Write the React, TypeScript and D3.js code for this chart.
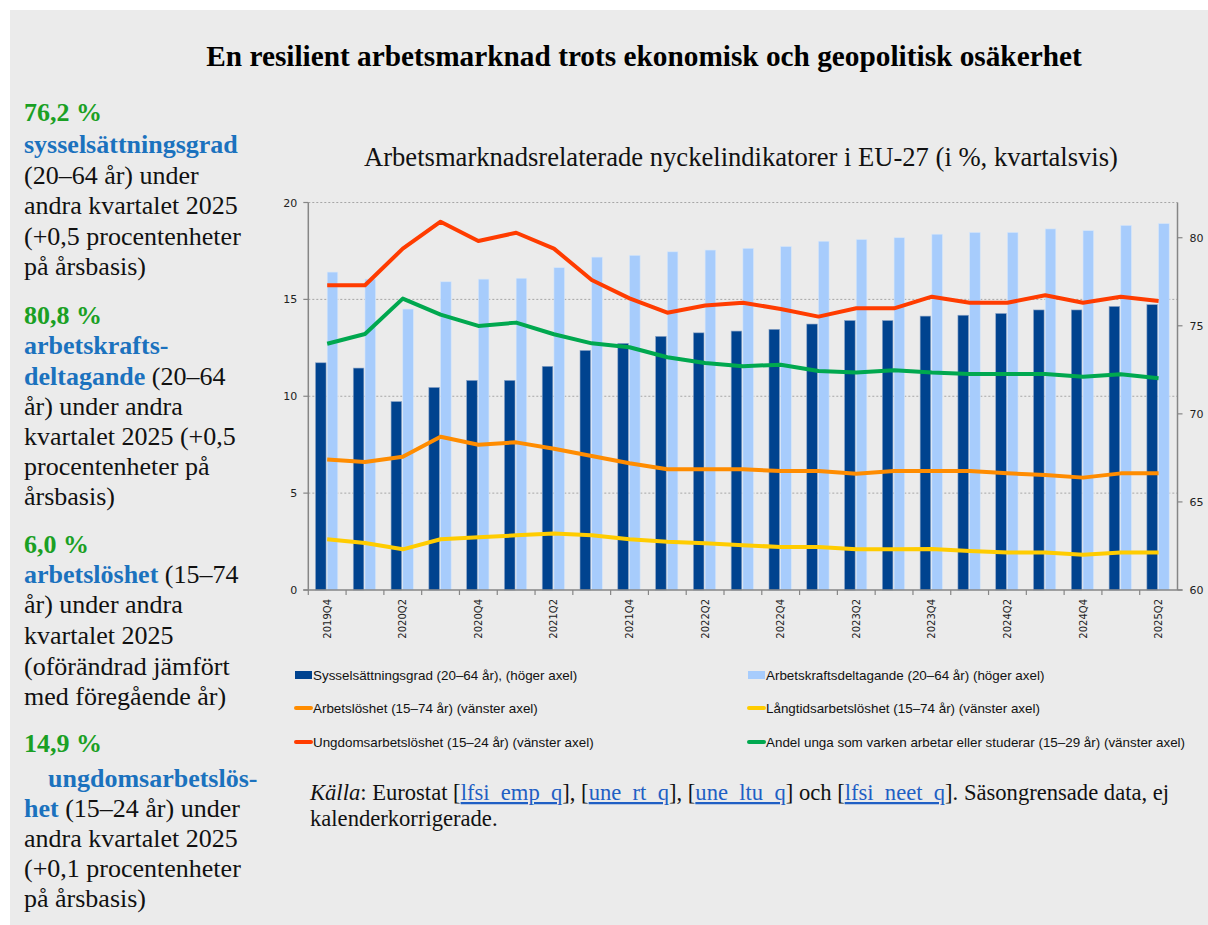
import React from 'react';
import * as d3 from 'd3';

const categories = ['2019Q4','2020Q1','2020Q2','2020Q3','2020Q4','2021Q1','2021Q2','2021Q3','2021Q4','2022Q1','2022Q2','2022Q3','2022Q4','2023Q1','2023Q2','2023Q3','2023Q4','2024Q1','2024Q2','2024Q3','2024Q4','2025Q1','2025Q2'];
const employment = [72.9,72.6,70.7,71.5,71.9,71.9,72.7,73.6,74.0,74.4,74.6,74.7,74.8,75.1,75.3,75.3,75.55,75.6,75.7,75.9,75.9,76.1,76.2];
const activity = [78.05,77.65,75.95,77.5,77.65,77.7,78.3,78.9,79.0,79.2,79.3,79.4,79.5,79.8,79.9,80.0,80.2,80.3,80.3,80.5,80.4,80.7,80.8];
const unemployment = [6.73,6.61,6.88,7.91,7.5,7.62,7.29,6.92,6.54,6.23,6.23,6.23,6.14,6.14,6.0,6.14,6.14,6.14,6.02,5.94,5.8,6.02,6.02];
const longTerm = [2.62,2.43,2.1,2.62,2.72,2.82,2.91,2.82,2.62,2.49,2.41,2.31,2.22,2.22,2.1,2.1,2.12,2.01,1.93,1.93,1.82,1.93,1.93];
const youth = [15.73,15.73,17.62,19.01,18.01,18.44,17.62,16.0,15.05,14.31,14.68,14.83,14.5,14.11,14.54,14.54,15.14,14.83,14.83,15.21,14.83,15.14,14.92];
const neet = [12.71,13.21,15.04,14.21,13.63,13.8,13.2,12.73,12.53,12.01,11.72,11.55,11.63,11.3,11.22,11.34,11.22,11.15,11.15,11.15,11.01,11.13,10.93];
const leftTicks = [0,5,10,15,20];
const rightTicks = [60,65,70,75,80];

const DARK = '#00438F';
const LIGHT = '#A7CCFC';
const ORANGE = '#FF8C00';
const YELLOW = '#FFCC00';
const RED = '#FF3C00';
const GREEN = '#00A84F';

const lineSeries = [
  { name: 'Arbetslöshet (15–74 år) (vänster axel)', values: unemployment, color: ORANGE },
  { name: 'Långtidsarbetslöshet (15–74 år) (vänster axel)', values: longTerm, color: YELLOW },
  { name: 'Ungdomsarbetslöshet (15–24 år) (vänster axel)', values: youth, color: RED },
  { name: 'Andel unga som varken arbetar eller studerar (15–29 år) (vänster axel)', values: neet, color: GREEN },
];

const legendItems = [
  { name: 'Sysselsättningsgrad (20–64 år), (höger axel)', color: DARK, type: 'bar' },
  { name: 'Arbetskraftsdeltagande (20–64 år) (höger axel)', color: LIGHT, type: 'bar' },
  { name: 'Arbetslöshet (15–74 år) (vänster axel)', color: ORANGE, type: 'line' },
  { name: 'Långtidsarbetslöshet (15–74 år) (vänster axel)', color: YELLOW, type: 'line' },
  { name: 'Ungdomsarbetslöshet (15–24 år) (vänster axel)', color: RED, type: 'line' },
  { name: 'Andel unga som varken arbetar eller studerar (15–29 år) (vänster axel)', color: GREEN, type: 'line' },
];

const GREEN_T = '#1AA024';
const BLUE_T = '#1B72BE';

type Seg = { t: string; c?: string; b?: boolean; i?: boolean };
const sideLines: { y: number; x?: number; segs: Seg[] }[] = [
  { y: 121, segs: [{ t: '76,2 %', c: GREEN_T, b: true }] },
  { y: 153, segs: [{ t: 'sysselsättningsgrad', c: BLUE_T, b: true }] },
  { y: 184, segs: [{ t: '(20–64 år) under' }] },
  { y: 214, segs: [{ t: 'andra kvartalet 2025' }] },
  { y: 245, segs: [{ t: '(+0,5 procentenheter' }] },
  { y: 275, segs: [{ t: 'på årsbasis)' }] },
  { y: 324, segs: [{ t: '80,8 %', c: GREEN_T, b: true }] },
  { y: 354, segs: [{ t: 'arbetskrafts-', c: BLUE_T, b: true }] },
  { y: 385, segs: [{ t: 'deltagande', c: BLUE_T, b: true }, { t: ' (20–64' }] },
  { y: 415, segs: [{ t: 'år) under andra' }] },
  { y: 445, segs: [{ t: 'kvartalet 2025 (+0,5' }] },
  { y: 475, segs: [{ t: 'procentenheter på' }] },
  { y: 505, segs: [{ t: 'årsbasis)' }] },
  { y: 553, segs: [{ t: '6,0 %', c: GREEN_T, b: true }] },
  { y: 583, segs: [{ t: 'arbetslöshet', c: BLUE_T, b: true }, { t: ' (15–74' }] },
  { y: 613, segs: [{ t: 'år) under andra' }] },
  { y: 644, segs: [{ t: 'kvartalet 2025' }] },
  { y: 675, segs: [{ t: '(oförändrad jämfört' }] },
  { y: 705, segs: [{ t: 'med föregående år)' }] },
  { y: 752, segs: [{ t: '14,9 %', c: GREEN_T, b: true }] },
  { y: 787, x: 48, segs: [{ t: 'ungdomsarbetslös-', c: BLUE_T, b: true }] },
  { y: 817, segs: [{ t: 'het', c: BLUE_T, b: true }, { t: ' (15–24 år) under' }] },
  { y: 847, segs: [{ t: 'andra kvartalet 2025' }] },
  { y: 877, segs: [{ t: '(+0,1 procentenheter' }] },
  { y: 907, segs: [{ t: 'på årsbasis)' }] },
];

export default function App() {
  const left = 308.3, right = 1177.5, top = 202.5, bottom = 590;
  const x = d3.scaleBand<string>().domain(categories).range([left, right]).padding(0);
  const bw = x.bandwidth();
  const yL = d3.scaleLinear().domain([0, 20]).range([bottom, top]);
  const yR = d3.scaleLinear().domain([60, 82]).range([bottom, top]);
  const barW = bw * 0.28;
  const line = (vals: number[]) =>
    d3.line<number>().x((_, i) => (x(categories[i]) as number) + bw / 2).y(v => yL(v))(vals) as string;
  const axisColor = '#868686';
  const tickFont = { fontFamily: 'DejaVu Sans, Verdana, sans-serif', fontSize: 11, fill: '#222' };
  const serif = 'Liberation Serif, Times New Roman, serif';
  const legendFont = 'Liberation Sans Narrow, Arial Narrow, Liberation Sans, sans-serif';
  const legendCols = [295, 748];
  const legendRows = [675, 708, 742];

  return (
    <svg width={1208} height={925} style={{ position: 'absolute', left: 0, top: 0, background: '#fff' }}>
      <rect x={10} y={10} width={1198} height={915} fill="#EBEBEB" />
      <text x={644} y={66} textAnchor="middle" fontFamily={serif} fontWeight="bold" fontSize={29.3} fill="#000">
        En resilient arbetsmarknad trots ekonomisk och geopolitisk osäkerhet
      </text>
      {sideLines.map((ln, i) => (
        <text key={i} x={ln.x ?? 24} y={ln.y} fontFamily={serif} fontSize={26} fill="#111" style={{ whiteSpace: 'pre' }}>
          {ln.segs.map((s, j) => (
            <tspan key={j} fill={s.c ?? '#111'} fontWeight={s.b ? 'bold' : 'normal'}>{s.t}</tspan>
          ))}
        </text>
      ))}
      <text x={741} y={166} textAnchor="middle" fontFamily={serif} fontSize={26.6} fill="#111">
        Arbetsmarknadsrelaterade nyckelindikatorer i EU-27 (i %, kvartalsvis)
      </text>
      {/* gridlines */}
      {leftTicks.filter(t => t > 0).map(t => (
        <line key={t} x1={left} x2={right} y1={yL(t)} y2={yL(t)} stroke="#A6A6A6" strokeWidth={1} strokeDasharray="2,2" />
      ))}
      {/* bars */}
      {categories.map((c, i) => (
        <g key={c}>
          <rect x={(x(c) as number) + bw * 0.19} y={yR(employment[i])} width={barW} height={bottom - yR(employment[i])} fill={DARK} stroke="#8DA6C8" strokeWidth={0.6} />
          <rect x={(x(c) as number) + bw * 0.5} y={yR(activity[i])} width={barW} height={bottom - yR(activity[i])} fill={LIGHT} stroke="#D6E6FA" strokeWidth={0.6} />
        </g>
      ))}
      {/* lines */}
      {lineSeries.map(s => (
        <path key={s.name} d={line(s.values)} fill="none" stroke={s.color} strokeWidth={4} strokeLinejoin="round" />
      ))}
      {/* axes */}
      <line x1={left} x2={left} y1={top} y2={bottom} stroke={axisColor} strokeWidth={1.5} />
      <line x1={right} x2={right} y1={top} y2={bottom} stroke={axisColor} strokeWidth={1.5} />
      <line x1={left - 5} x2={right + 5} y1={bottom} y2={bottom} stroke={axisColor} strokeWidth={1.5} />
      {leftTicks.map(t => (
        <g key={t}>
          <line x1={left - 5} x2={left} y1={yL(t)} y2={yL(t)} stroke={axisColor} strokeWidth={1.2} />
          <text x={left - 11} y={yL(t) + 4} textAnchor="end" {...tickFont}>{t}</text>
        </g>
      ))}
      {rightTicks.map(t => (
        <g key={t}>
          <line x1={right} x2={right + 5} y1={yR(t)} y2={yR(t)} stroke={axisColor} strokeWidth={1.2} />
          <text x={right + 12} y={yR(t) + 4} textAnchor="start" {...tickFont}>{t}</text>
        </g>
      ))}
      {categories.map((c) => (
        <line key={'t' + c} x1={x(c) as number} x2={x(c) as number} y1={bottom} y2={bottom + 5} stroke={axisColor} strokeWidth={1.2} />
      ))}
      {categories.map((c, i) => i % 2 === 0 ? (
        <text key={'l' + c} transform={`translate(${(x(c) as number) + bw / 2 + 3.5},${bottom + 9}) rotate(-90)`} textAnchor="end"
          fontFamily="DejaVu Sans, Verdana, sans-serif" fontSize={10} fill="#222">{c}</text>
      ) : null)}
      {/* legend */}
      {legendItems.map((it, i) => {
        const lx = legendCols[i % 2];
        const ly = legendRows[Math.floor(i / 2)];
        return (
          <g key={it.name}>
            {it.type === 'bar'
              ? <rect x={lx} y={ly - 4} width={17} height={8} fill={it.color} />
              : <line x1={lx + 1} x2={lx + 16} y1={ly} y2={ly} stroke={it.color} strokeWidth={4} strokeLinecap="round" />}
            <text x={lx + 18} y={ly + 4.5} fontFamily={legendFont} fontSize={13.4} fill="#111">{it.name}</text>
          </g>
        );
      })}
      {/* source */}
      <text x={310} y={800} fontFamily={serif} fontSize={22.6} fill="#111" style={{ whiteSpace: 'pre' }}>
        <tspan fontStyle="italic">Källa</tspan>
        <tspan>: Eurostat [</tspan>
        <tspan fill="#1F5FC4" textDecoration="underline">lfsi_emp_q</tspan>
        <tspan>], [</tspan>
        <tspan fill="#1F5FC4" textDecoration="underline">une_rt_q</tspan>
        <tspan>], [</tspan>
        <tspan fill="#1F5FC4" textDecoration="underline">une_ltu_q</tspan>
        <tspan>] och [</tspan>
        <tspan fill="#1F5FC4" textDecoration="underline">lfsi_neet_q</tspan>
        <tspan>]. Säsongrensade data, ej</tspan>
      </text>
      <text x={310} y={826} fontFamily={serif} fontSize={22.6} fill="#111">kalenderkorrigerade.</text>
    </svg>
  );
}
